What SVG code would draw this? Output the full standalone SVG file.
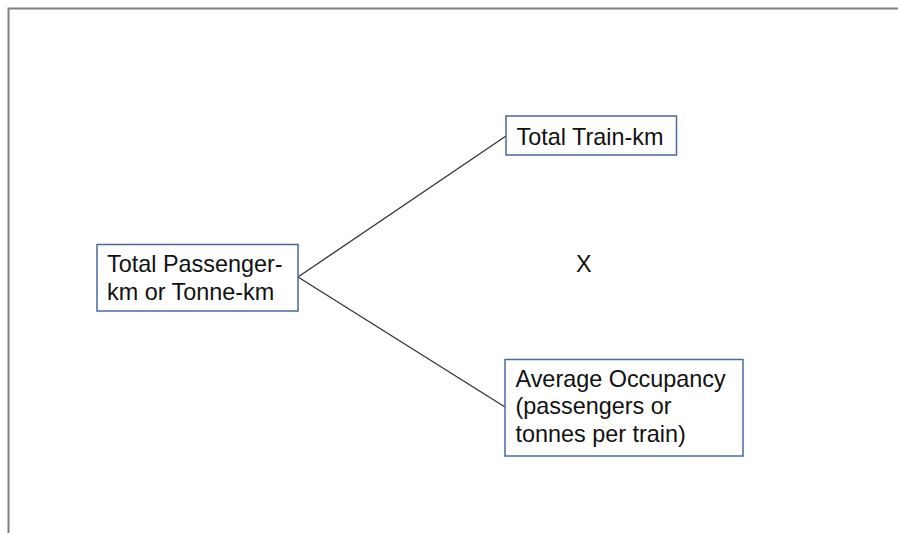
<svg xmlns="http://www.w3.org/2000/svg" width="898" height="533" viewBox="0 0 898 533">
<style>
.frame{fill:none;stroke:#7f7f7f;stroke-width:2}
.box{fill:#fff;stroke:#4a6aa0;stroke-width:1.5}
.t{font-family:"Liberation Sans",Arial,sans-serif;font-size:23.4px;fill:#111}
.c{stroke:#333;stroke-width:1.3;fill:none}
</style>
<rect width="898" height="533" fill="#fff"/>
<path class="frame" d="M8.5,540 V8.5 H900"/>
<g id="connectors">
<line class="c" x1="298" y1="277" x2="506" y2="136"/>
<line class="c" x1="298" y1="277" x2="505" y2="407"/>
</g>
<g id="n-total-pkm">
<rect class="box" x="97" y="244.5" width="201" height="66.5"/>
<text class="t" x="107" y="272">Total Passenger-</text>
<text class="t" x="107" y="300">km or Tonne-km</text>
</g>
<g id="n-train-km">
<rect class="box" x="506" y="116" width="170.5" height="39"/>
<text class="t" x="516.5" y="144.5">Total Train-km</text>
</g>
<g id="n-occupancy">
<rect class="box" x="505" y="359.5" width="238" height="96.5"/>
<text class="t" x="515.5" y="387">Average Occupancy</text>
<text class="t" x="515.5" y="414">(passengers or</text>
<text class="t" x="515.5" y="441.5">tonnes per train)</text>
</g>
<g id="n-times">
<text class="t" x="576" y="272">X</text>
</g>
</svg>
